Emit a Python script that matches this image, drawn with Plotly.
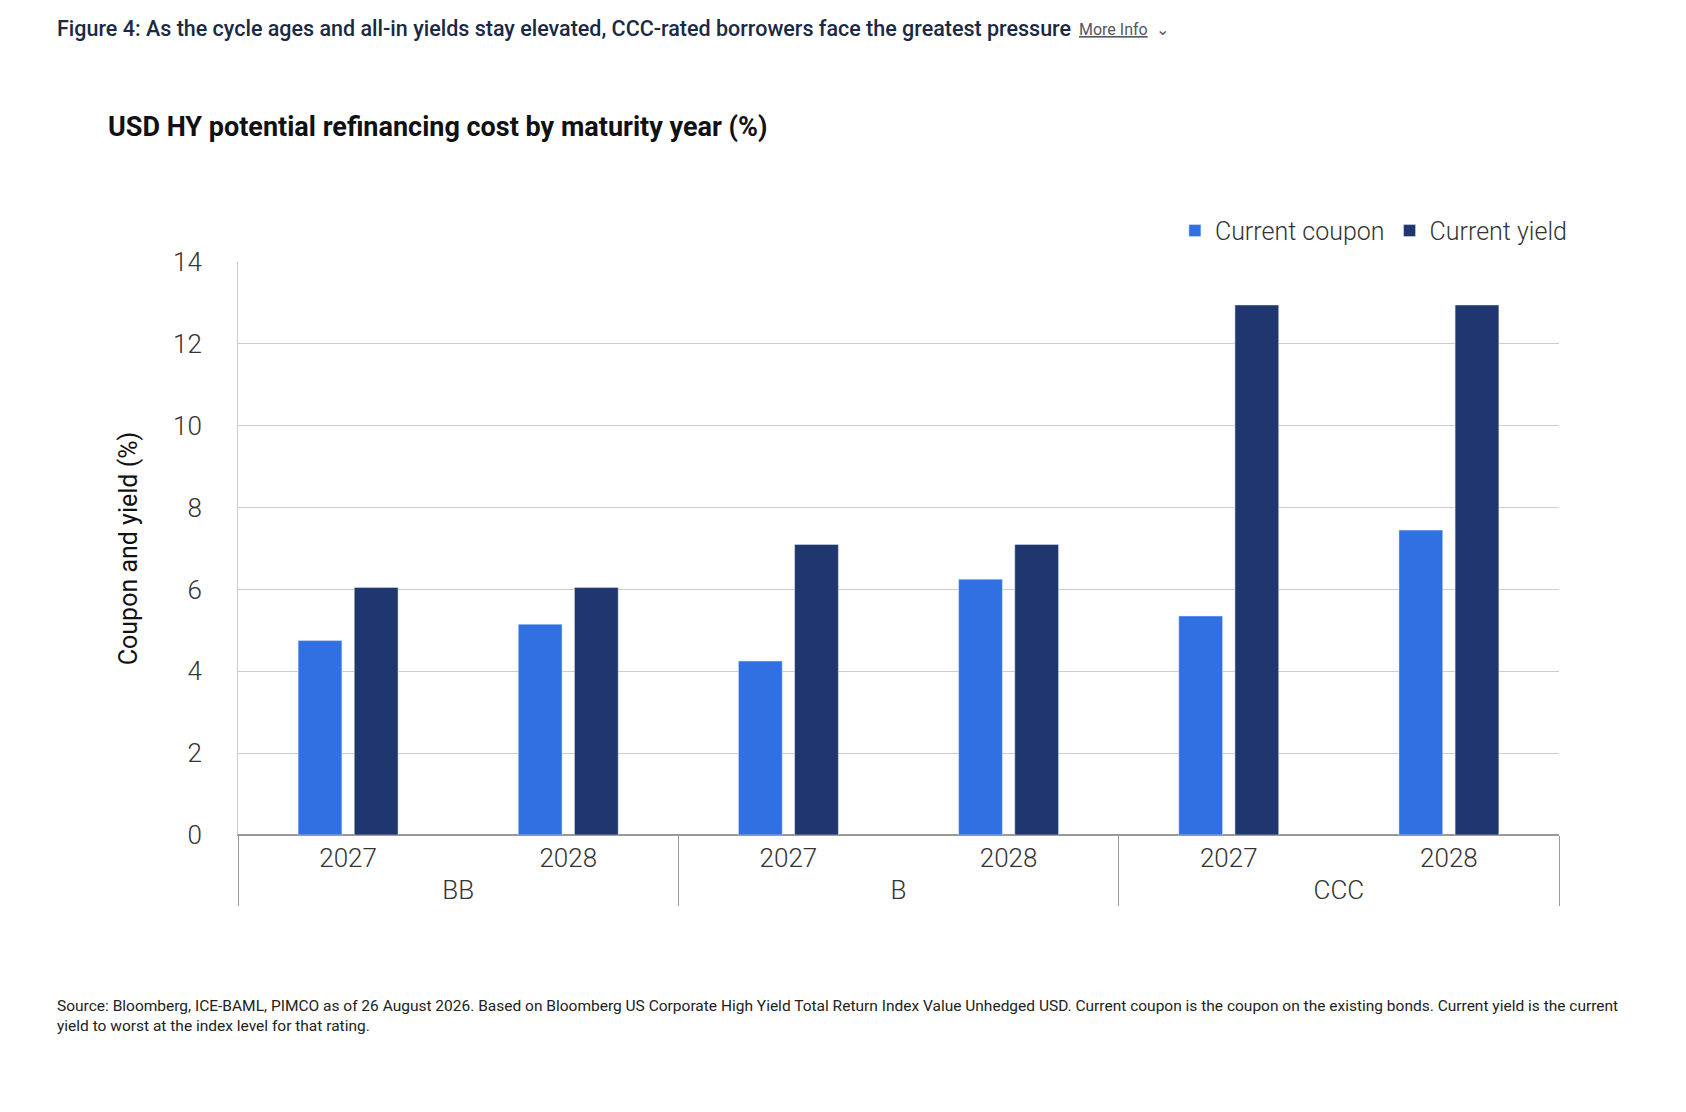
import plotly.graph_objects as go

ratings = ["BB", "BB", "B", "B", "CCC", "CCC"]
years = ["2027", "2028", "2027", "2028", "2027", "2028"]
current_coupon = [4.75, 5.15, 4.25, 6.25, 5.35, 7.45]
current_yield = [6.05, 6.05, 7.1, 7.1, 12.95, 12.95]

W, H = 1686, 1112


def a(v):
    # reference screen coords -> page pixels
    return v / 0.93 - 8


L, R, T, B = a(221), a(1450), a(244), a(777)
pw, ph = R - L, B - T


def px(x):
    return (a(x) - L) / pw


def py(y):
    return (B - a(y)) / ph


fig = go.Figure()
fig.add_trace(go.Bar(x=[ratings, years], y=current_coupon, name="Current coupon",
                     marker_color="#3070E3"))
fig.add_trace(go.Bar(x=[ratings, years], y=current_yield, name="Current yield",
                     marker_color="#20366E"))

fig.update_layout(
    width=W, height=H,
    margin=dict(l=L, r=W - R, t=T, b=H - B),
    paper_bgcolor="white", plot_bgcolor="white",
    font=dict(family="Roboto", color="#222"),
    barmode="group", bargap=0.49, bargroupgap=0.22,
    legend=dict(orientation="h", x=px(1462), xanchor="right", y=py(215), yanchor="middle",
                font=dict(size=25, color="#333", weight=300), itemwidth=30,
                traceorder="normal"),
    xaxis=dict(showline=True, linecolor="#999", ticks="",
               tickfont=dict(size=26, color="#333", weight=300),
               dividercolor="#999", dividerwidth=1),
    yaxis=dict(range=[0, 14], dtick=2, gridcolor="#ccc", showline=True, linecolor="#ccc",
               tickfont=dict(size=26, color="#333", weight=300), ticklen=0,
               ticklabelstandoff=30, zeroline=True, zerolinecolor="#999",
               title=dict(text="Coupon and yield (%)",
                          font=dict(size=25, color="#111"), standoff=28)),
    annotations=[
        dict(text="Figure 4: As the cycle ages and all-in yields stay elevated, CCC-rated borrowers face the greatest pressure",
             x=px(51), y=py(27), xref="paper", yref="paper", xanchor="left", yanchor="middle",
             showarrow=False, font=dict(size=21.5, color="#1a2a44", weight=500)),
        dict(text="<span style='text-decoration:underline'>More Info</span>  ⌄",
             x=px(1002), y=py(28), xref="paper", yref="paper", xanchor="left", yanchor="middle",
             showarrow=False, font=dict(size=16, color="#556")),
        dict(text="<b>USD HY potential refinancing cost by maturity year (%)</b>",
             x=px(98), y=py(118), xref="paper", yref="paper", xanchor="left", yanchor="middle",
             showarrow=False, font=dict(size=27, color="#111")),
        dict(text="Source: Bloomberg, ICE-BAML, PIMCO as of 26 August 2026. Based on Bloomberg US Corporate High Yield Total Return Index Value Unhedged USD. Current coupon is the coupon on the existing bonds. Current yield is the current<br>yield to worst at the index level for that rating.",
             x=px(51), y=py(926), xref="paper", yref="paper", xanchor="left", yanchor="top",
             align="left", showarrow=False, font=dict(size=15.5, color="#222",
                                                      lineposition="none")),
    ],
)

fig.write_html("out.html")
